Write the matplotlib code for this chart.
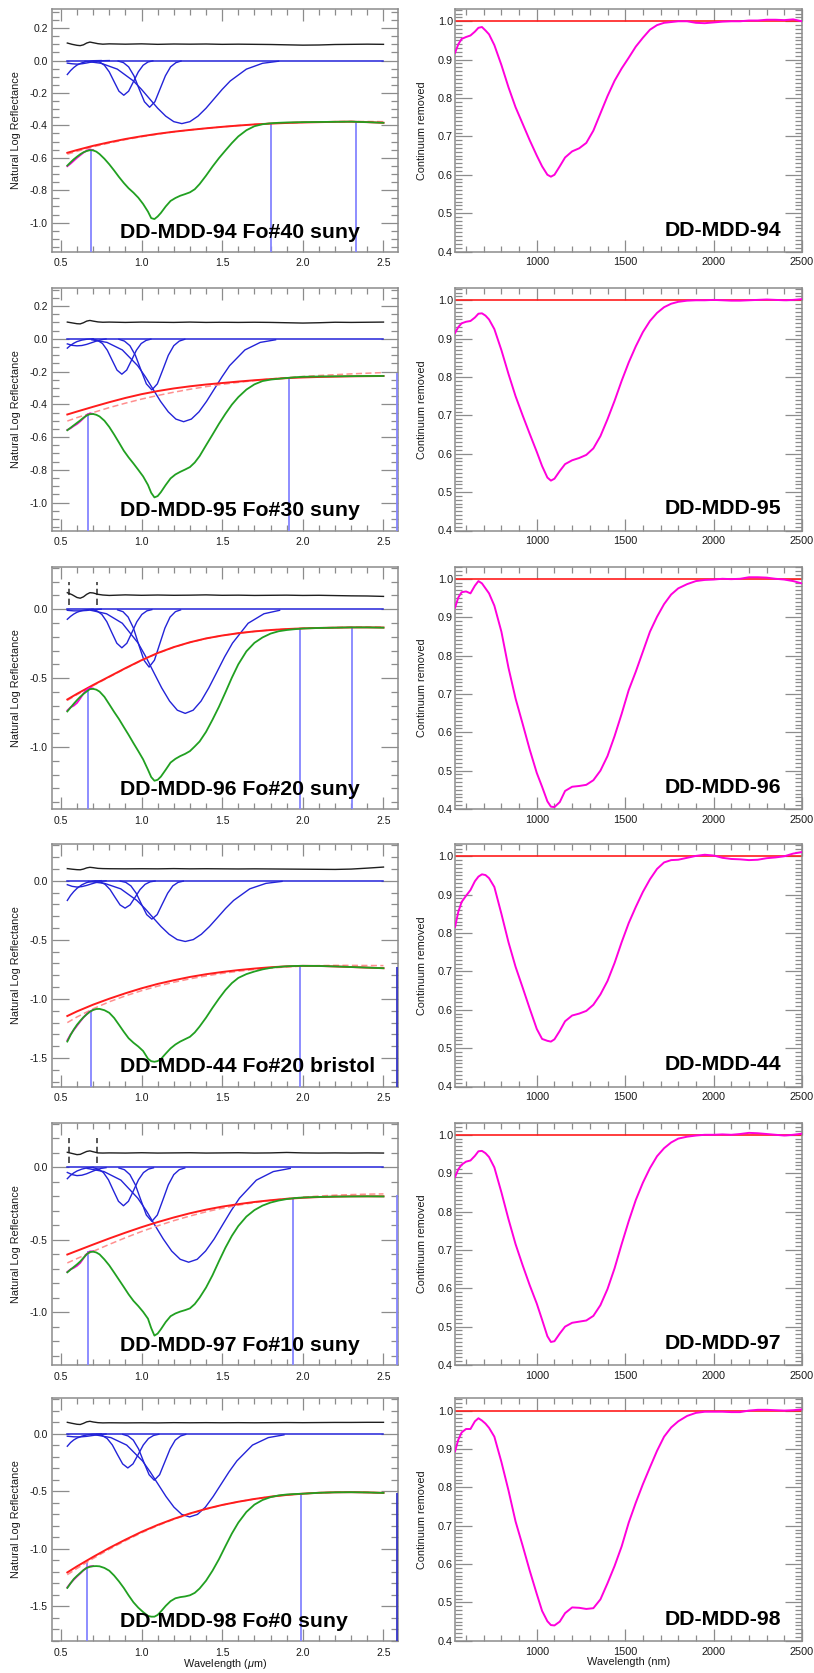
import matplotlib
matplotlib.use('Agg')
import matplotlib.pyplot as plt
from matplotlib.ticker import MultipleLocator, FormatStrFormatter

plt.rcParams['font.family'] = ['Liberation Sans', 'DejaVu Sans']
plt.rcParams['axes.unicode_minus'] = False
plt.rcParams['mathtext.fontset'] = 'custom'
plt.rcParams['mathtext.it'] = 'Liberation Sans:italic'
plt.rcParams['mathtext.rm'] = 'Liberation Sans'

# ------------------------------------------------------------------ data
left_titles = ['DD-MDD-94 Fo#40 suny', 'DD-MDD-95 Fo#30 suny', 'DD-MDD-96 Fo#20 suny',
               'DD-MDD-44 Fo#20 bristol', 'DD-MDD-97 Fo#10 suny', 'DD-MDD-98 Fo#0 suny']
right_titles = ['DD-MDD-94', 'DD-MDD-95', 'DD-MDD-96', 'DD-MDD-44', 'DD-MDD-97', 'DD-MDD-98']

# wavelength grids (micrometres) for the left panels
GX = [0.54, 0.56, 0.58, 0.60, 0.62, 0.64, 0.66, 0.68, 0.70, 0.72, 0.74, 0.77, 0.80, 0.83, 0.86,
      0.89, 0.92, 0.95, 0.98, 1.01, 1.04, 1.06, 1.08, 1.10, 1.12, 1.15, 1.18, 1.21, 1.24, 1.27,
      1.30, 1.33, 1.36, 1.40, 1.44, 1.48, 1.52, 1.56, 1.60, 1.65, 1.70, 1.75, 1.80, 1.85, 1.90,
      1.95, 2.00, 2.10, 2.20, 2.30, 2.40, 2.50]
CX = [0.54, 0.6, 0.7, 0.8, 0.9, 1.0, 1.1, 1.2, 1.3, 1.4, 1.5, 1.6, 1.7, 1.8, 1.9, 2.0, 2.1, 2.2,
      2.3, 2.4, 2.5]
BKX = [0.54, 0.57, 0.60, 0.62, 0.64, 0.66, 0.68, 0.70, 0.73, 0.76, 0.80, 0.9, 1.0, 1.1, 1.2, 1.3,
       1.4, 1.5, 1.6, 1.7, 1.8, 1.9, 2.0, 2.1, 2.2, 2.3, 2.4, 2.5]
MX = [0.54, 0.56, 0.58, 0.60, 0.62, 0.64, 0.66, 0.68, 0.70]
# wavelength grid (nm) for the right panels
RX = [538, 556, 575, 600, 625, 650, 670, 690, 710, 730, 760, 800, 840, 880, 920, 960, 1000,
      1030, 1060, 1080, 1100, 1130, 1160, 1200, 1240, 1280, 1320, 1360, 1400, 1440, 1480, 1520,
      1560, 1600, 1640, 1680, 1720, 1760, 1800, 1850, 1900, 1950, 2000, 2050, 2100, 2150, 2200,
      2250, 2300, 2350, 2400, 2450, 2500]

# ---- modelled spectra (green) ----
green_94 = [-0.648, -0.628, -0.609, -0.593, -0.578, -0.566, -0.558, -0.553, -0.554, -0.562, -0.577,
            -0.606, -0.640, -0.678, -0.718, -0.755, -0.788, -0.815, -0.846, -0.885, -0.932,
            -0.972, -0.978, -0.962, -0.940, -0.900, -0.866, -0.848, -0.834, -0.824, -0.813,
            -0.794, -0.762, -0.710, -0.654, -0.602, -0.555, -0.509, -0.468, -0.430, -0.405,
            -0.393, -0.387, -0.384, -0.382, -0.381, -0.380, -0.379, -0.378, -0.377, -0.380, -0.384]
green_95 = [-0.558, -0.543, -0.528, -0.513, -0.498, -0.482, -0.468, -0.460, -0.459, -0.464, -0.474,
            -0.500, -0.538, -0.584, -0.633, -0.683, -0.724, -0.761, -0.800, -0.840, -0.892,
            -0.940, -0.968, -0.960, -0.936, -0.892, -0.852, -0.828, -0.812, -0.798, -0.783,
            -0.755, -0.716, -0.650, -0.585, -0.519, -0.458, -0.402, -0.356, -0.310, -0.278,
            -0.258, -0.249, -0.244, -0.239, -0.235, -0.232, -0.230, -0.229, -0.228, -0.227, -0.227]
green_96 = [-0.742, -0.714, -0.686, -0.660, -0.636, -0.615, -0.597, -0.580, -0.578, -0.584, -0.598,
            -0.636, -0.690, -0.745, -0.797, -0.855, -0.912, -0.972, -1.030, -1.090, -1.165,
            -1.218, -1.245, -1.238, -1.215, -1.165, -1.113, -1.086, -1.066, -1.050, -1.030,
            -0.996, -0.960, -0.890, -0.802, -0.708, -0.604, -0.497, -0.400, -0.306, -0.244,
            -0.205, -0.177, -0.160, -0.151, -0.145, -0.140, -0.136, -0.134, -0.132, -0.132, -0.134]
green_44 = [-1.360, -1.305, -1.258, -1.218, -1.185, -1.155, -1.130, -1.108, -1.093, -1.085, -1.084,
            -1.095, -1.117, -1.160, -1.218, -1.277, -1.332, -1.370, -1.402, -1.440, -1.505,
            -1.526, -1.531, -1.525, -1.508, -1.462, -1.418, -1.385, -1.360, -1.340, -1.320,
            -1.283, -1.233, -1.158, -1.075, -0.997, -0.925, -0.866, -0.822, -0.790, -0.768,
            -0.750, -0.737, -0.729, -0.724, -0.721, -0.720, -0.721, -0.725, -0.730, -0.735, -0.740]
green_97 = [-0.725, -0.706, -0.688, -0.670, -0.650, -0.625, -0.600, -0.585, -0.582, -0.588, -0.601,
            -0.636, -0.677, -0.726, -0.776, -0.826, -0.877, -0.922, -0.958, -0.998, -1.045,
            -1.110, -1.162, -1.148, -1.118, -1.068, -1.028, -1.009, -0.996, -0.986, -0.974,
            -0.944, -0.900, -0.830, -0.745, -0.648, -0.555, -0.473, -0.405, -0.340, -0.295,
            -0.264, -0.243, -0.229, -0.219, -0.212, -0.208, -0.204, -0.202, -0.201, -0.200, -0.201]
green_98 = [-1.340, -1.300, -1.262, -1.235, -1.210, -1.185, -1.166, -1.156, -1.151, -1.150, -1.152,
            -1.166, -1.190, -1.232, -1.283, -1.340, -1.405, -1.465, -1.512, -1.550, -1.583,
            -1.590, -1.590, -1.575, -1.545, -1.496, -1.455, -1.430, -1.420, -1.414, -1.404,
            -1.383, -1.345, -1.277, -1.190, -1.090, -0.977, -0.867, -0.772, -0.679, -0.615,
            -0.575, -0.550, -0.535, -0.527, -0.523, -0.520, -0.512, -0.508, -0.507, -0.509, -0.513]

# ---- measured spectra near the short-wavelength end (magenta, peeks out under the fit) ----
meas_94 = [-0.652, -0.636, -0.618, -0.600, -0.584, -0.568, -0.556, -0.549, -0.553]
meas_95 = [-0.556, -0.546, -0.532, -0.520, -0.504, -0.485, -0.466, -0.455, -0.458]
meas_96 = [-0.735, -0.712, -0.700, -0.680, -0.648, -0.612, -0.585, -0.570, -0.576]
meas_44 = [-1.350, -1.300, -1.262, -1.226, -1.190, -1.156, -1.128, -1.106, -1.092]
meas_97 = [-0.722, -0.704, -0.694, -0.680, -0.660, -0.628, -0.598, -0.580, -0.580]
meas_98 = [-1.335, -1.298, -1.268, -1.240, -1.214, -1.186, -1.164, -1.152, -1.150]

# ---- continua (solid and dashed red) ----
cont_94 = [-0.569, -0.552, -0.526, -0.504, -0.484, -0.467, -0.452, -0.439, -0.428, -0.418, -0.409,
           -0.401, -0.394, -0.389, -0.385, -0.382, -0.380, -0.378, -0.377, -0.380, -0.384]
contd_94 = [-0.578, -0.560, -0.532, -0.509, -0.488, -0.470, -0.454, -0.440, -0.428, -0.418, -0.409,
            -0.401, -0.394, -0.388, -0.384, -0.381, -0.379, -0.377, -0.376, -0.376, -0.377]
cont_95 = [-0.462, -0.444, -0.415, -0.387, -0.361, -0.338, -0.319, -0.303, -0.290, -0.279, -0.270,
           -0.261, -0.253, -0.246, -0.240, -0.236, -0.233, -0.231, -0.229, -0.228, -0.227]
contd_95 = [-0.502, -0.481, -0.450, -0.420, -0.393, -0.368, -0.346, -0.326, -0.308, -0.292, -0.278,
            -0.266, -0.255, -0.245, -0.237, -0.230, -0.224, -0.219, -0.214, -0.210, -0.206]
cont_96 = [-0.655, -0.614, -0.550, -0.489, -0.428, -0.370, -0.318, -0.275, -0.240, -0.212, -0.191,
           -0.174, -0.161, -0.151, -0.144, -0.139, -0.136, -0.134, -0.132, -0.132, -0.133]
contd_96 = [-0.662, -0.620, -0.555, -0.492, -0.431, -0.372, -0.320, -0.276, -0.241, -0.213, -0.191,
            -0.174, -0.161, -0.151, -0.144, -0.139, -0.135, -0.133, -0.131, -0.130, -0.130]
cont_44 = [-1.144, -1.105, -1.048, -0.998, -0.952, -0.910, -0.873, -0.842, -0.814, -0.791, -0.772,
           -0.756, -0.743, -0.732, -0.724, -0.720, -0.721, -0.725, -0.730, -0.735, -0.740]
contd_44 = [-1.200, -1.152, -1.083, -1.024, -0.974, -0.930, -0.892, -0.859, -0.830, -0.805, -0.784,
            -0.766, -0.751, -0.739, -0.729, -0.722, -0.718, -0.716, -0.716, -0.717, -0.718]
cont_97 = [-0.602, -0.576, -0.533, -0.491, -0.451, -0.413, -0.378, -0.346, -0.317, -0.292, -0.271,
           -0.254, -0.239, -0.227, -0.217, -0.210, -0.205, -0.202, -0.200, -0.200, -0.200]
contd_97 = [-0.660, -0.630, -0.580, -0.532, -0.486, -0.443, -0.404, -0.368, -0.336, -0.307, -0.282,
            -0.261, -0.243, -0.228, -0.216, -0.206, -0.198, -0.192, -0.188, -0.185, -0.183]
cont_98 = [-1.205, -1.152, -1.070, -0.992, -0.920, -0.852, -0.792, -0.739, -0.692, -0.652, -0.618,
           -0.590, -0.566, -0.546, -0.531, -0.520, -0.512, -0.508, -0.507, -0.509, -0.513]
contd_98 = [-1.225, -1.170, -1.084, -1.003, -0.929, -0.860, -0.798, -0.743, -0.695, -0.654, -0.619,
            -0.590, -0.566, -0.546, -0.531, -0.520, -0.512, -0.508, -0.507, -0.509, -0.513]

# ---- residual (black, offset +0.1) ----
resid_94 = [0.108, 0.100, 0.094, 0.092, 0.097, 0.108, 0.114, 0.110, 0.104, 0.101, 0.103, 0.101, 0.103,
            0.100, 0.102, 0.101, 0.102, 0.100, 0.101, 0.100, 0.099, 0.097, 0.095, 0.096, 0.099, 0.100,
            0.101, 0.100]
resid_95 = [0.102, 0.097, 0.092, 0.091, 0.098, 0.108, 0.112, 0.108, 0.103, 0.101, 0.102, 0.100, 0.102,
            0.101, 0.100, 0.102, 0.100, 0.101, 0.100, 0.101, 0.100, 0.098, 0.096, 0.098, 0.101, 0.100,
            0.101, 0.102]
resid_96 = [0.120, 0.105, 0.085, 0.080, 0.090, 0.108, 0.120, 0.118, 0.108, 0.103, 0.100, 0.104, 0.101,
            0.103, 0.101, 0.102, 0.104, 0.101, 0.102, 0.100, 0.101, 0.102, 0.100, 0.101, 0.099, 0.097,
            0.096, 0.093]
resid_44 = [0.102, 0.097, 0.093, 0.092, 0.098, 0.108, 0.113, 0.110, 0.104, 0.102, 0.101, 0.100, 0.101,
            0.100, 0.102, 0.100, 0.101, 0.100, 0.099, 0.100, 0.099, 0.098, 0.097, 0.096, 0.095, 0.098,
            0.106, 0.115]
resid_97 = [0.104, 0.096, 0.088, 0.090, 0.100, 0.110, 0.114, 0.108, 0.100, 0.099, 0.100, 0.099, 0.101,
            0.099, 0.100, 0.101, 0.099, 0.100, 0.101, 0.099, 0.100, 0.103, 0.100, 0.099, 0.100, 0.099,
            0.100, 0.099]
resid_98 = [0.101, 0.092, 0.084, 0.082, 0.092, 0.105, 0.110, 0.104, 0.098, 0.096, 0.097, 0.096, 0.097,
            0.096, 0.098, 0.097, 0.098, 0.097, 0.098, 0.097, 0.098, 0.099, 0.098, 0.099, 0.100, 0.100,
            0.101, 0.101]

# ---- absorption bands (blue) : A, B = small visible bands; 1, 2, 3 = olivine M1/M2/M1 ----
b94_ax = [0.54, 0.56, 0.58, 0.60, 0.63, 0.66, 0.70, 0.75]
b94_ay = [-0.086, -0.062, -0.043, -0.028, -0.014, -0.006, -0.001, 0.0]
b94_bx = [0.54, 0.57, 0.60, 0.63, 0.66, 0.69, 0.72, 0.76, 0.80]
b94_by = [-0.016, -0.020, -0.022, -0.020, -0.015, -0.009, -0.005, -0.001, 0.0]
b94_1x = [0.71, 0.74, 0.77, 0.80, 0.83, 0.86, 0.89, 0.92, 0.95, 0.98, 1.01, 1.04, 1.07]
b94_1y = [-0.002, -0.009, -0.029, -0.070, -0.130, -0.189, -0.214, -0.189, -0.130, -0.070, -0.029, -0.009, -0.002]
b94_2x = [0.855, 0.888, 0.920, 0.953, 0.985, 1.018, 1.050, 1.083, 1.115, 1.148, 1.180, 1.213, 1.245]
b94_2y = [-0.003, -0.013, -0.039, -0.094, -0.175, -0.254, -0.288, -0.254, -0.175, -0.094, -0.039, -0.013, -0.003]
b94_3x = [0.65, 0.75, 0.85, 0.95, 1.00, 1.05, 1.10, 1.15, 1.20, 1.25, 1.30, 1.35, 1.40, 1.45, 1.50,
          1.55, 1.65, 1.75, 1.85]
b94_3y = [-0.004, -0.017, -0.053, -0.126, -0.178, -0.236, -0.294, -0.343, -0.377, -0.389, -0.377,
          -0.343, -0.294, -0.236, -0.178, -0.126, -0.053, -0.017, -0.004]

b95_ax = [0.54, 0.56, 0.58, 0.60, 0.63, 0.66, 0.70]
b95_ay = [-0.057, -0.040, -0.027, -0.017, -0.008, -0.003, 0.0]
b95_bx = [0.54, 0.57, 0.60, 0.63, 0.66, 0.69, 0.72, 0.75, 0.78]
b95_by = [-0.031, -0.040, -0.043, -0.041, -0.034, -0.024, -0.014, -0.006, -0.001]
b95_1x = [0.698, 0.728, 0.758, 0.788, 0.818, 0.848, 0.878, 0.908, 0.938, 0.968, 0.998, 1.028, 1.058]
b95_1y = [-0.002, -0.010, -0.029, -0.070, -0.131, -0.191, -0.216, -0.191, -0.131, -0.070, -0.029, -0.010, -0.002]
b95_2x = [0.860, 0.894, 0.928, 0.962, 0.996, 1.030, 1.064, 1.098, 1.132, 1.166, 1.200, 1.234, 1.268]
b95_2y = [-0.003, -0.014, -0.042, -0.101, -0.189, -0.275, -0.312, -0.275, -0.189, -0.101, -0.042, -0.014, -0.003]
b95_3x = [0.691, 0.786, 0.881, 0.976, 1.024, 1.071, 1.118, 1.166, 1.213, 1.261, 1.309, 1.356, 1.403,
          1.451, 1.499, 1.546, 1.641, 1.736, 1.831]
b95_3y = [-0.006, -0.022, -0.068, -0.164, -0.232, -0.307, -0.382, -0.446, -0.490, -0.506, -0.490,
          -0.446, -0.382, -0.307, -0.232, -0.164, -0.068, -0.022, -0.006]

b96_ax = [0.54, 0.56, 0.58, 0.60, 0.63, 0.66, 0.70]
b96_ay = [-0.073, -0.052, -0.035, -0.022, -0.010, -0.004, 0.0]
b96_bx = [0.54, 0.58, 0.62, 0.66, 0.70, 0.75]
b96_by = [-0.008, -0.012, -0.012, -0.009, -0.004, 0.0]
b96_1x = [0.692, 0.723, 0.754, 0.785, 0.816, 0.847, 0.878, 0.909, 0.940, 0.971, 1.002, 1.033, 1.064]
b96_1y = [-0.003, -0.012, -0.038, -0.091, -0.170, -0.247, -0.280, -0.247, -0.170, -0.091, -0.038, -0.012, -0.003]
b96_2x = [0.852, 0.885, 0.917, 0.950, 0.982, 1.015, 1.047, 1.080, 1.112, 1.145, 1.177, 1.210, 1.242]
b96_2y = [-0.005, -0.018, -0.057, -0.137, -0.255, -0.370, -0.420, -0.370, -0.255, -0.137, -0.057, -0.018, -0.005]
b96_3x = [0.686, 0.783, 0.881, 0.979, 1.027, 1.076, 1.125, 1.174, 1.222, 1.271, 1.320, 1.369, 1.417,
          1.466, 1.515, 1.564, 1.661, 1.759, 1.856]
b96_3y = [-0.008, -0.033, -0.102, -0.246, -0.346, -0.459, -0.571, -0.667, -0.733, -0.756, -0.733,
          -0.667, -0.571, -0.459, -0.346, -0.246, -0.102, -0.033, -0.008]

b44_ax = [0.54, 0.56, 0.58, 0.60, 0.63, 0.66, 0.70, 0.75]
b44_ay = [-0.167, -0.125, -0.092, -0.065, -0.035, -0.016, -0.004, 0.0]
b44_bx = [0.54, 0.57, 0.60, 0.63, 0.66, 0.69, 0.72, 0.75, 0.78]
b44_by = [-0.034, -0.048, -0.054, -0.050, -0.040, -0.027, -0.015, -0.006, -0.001]
b44_1x = [0.712, 0.743, 0.774, 0.805, 0.836, 0.867, 0.898, 0.929, 0.960, 0.991, 1.022, 1.053, 1.084]
b44_1y = [-0.003, -0.010, -0.031, -0.075, -0.141, -0.205, -0.232, -0.205, -0.141, -0.075, -0.031, -0.010, -0.003]
b44_2x = [0.869, 0.902, 0.934, 0.967, 0.999, 1.032, 1.064, 1.097, 1.129, 1.162, 1.194, 1.227, 1.259]
b44_2y = [-0.004, -0.014, -0.044, -0.106, -0.197, -0.287, -0.325, -0.287, -0.197, -0.106, -0.044, -0.014, -0.004]
b44_3x = [0.671, 0.771, 0.871, 0.971, 1.021, 1.071, 1.121, 1.171, 1.221, 1.271, 1.321, 1.371, 1.421,
          1.471, 1.521, 1.571, 1.671, 1.771, 1.871]
b44_3y = [-0.006, -0.023, -0.069, -0.167, -0.235, -0.312, -0.388, -0.453, -0.498, -0.514, -0.498,
          -0.453, -0.388, -0.312, -0.235, -0.167, -0.069, -0.023, -0.006]

b97_ax = [0.54, 0.56, 0.58, 0.60, 0.63, 0.66, 0.70]
b97_ay = [-0.078, -0.055, -0.038, -0.025, -0.012, -0.004, 0.0]
b97_bx = [0.54, 0.57, 0.60, 0.63, 0.66, 0.69, 0.72, 0.75, 0.78]
b97_by = [-0.035, -0.050, -0.057, -0.054, -0.044, -0.030, -0.017, -0.007, -0.002]
b97_1x = [0.702, 0.733, 0.764, 0.795, 0.826, 0.857, 0.888, 0.919, 0.950, 0.981, 1.012, 1.043, 1.074]
b97_1y = [-0.003, -0.012, -0.036, -0.086, -0.161, -0.234, -0.265, -0.234, -0.161, -0.086, -0.036, -0.012, -0.003]
b97_2x = [0.860, 0.894, 0.928, 0.962, 0.996, 1.030, 1.064, 1.098, 1.132, 1.166, 1.200, 1.234, 1.268]
b97_2y = [-0.004, -0.016, -0.050, -0.121, -0.226, -0.329, -0.373, -0.329, -0.226, -0.121, -0.050, -0.016, -0.004]
b97_3x = [0.662, 0.767, 0.872, 0.977, 1.030, 1.082, 1.135, 1.187, 1.240, 1.292, 1.345, 1.397, 1.450,
          1.502, 1.555, 1.607, 1.712, 1.817, 1.922]
b97_3y = [-0.007, -0.029, -0.088, -0.213, -0.300, -0.398, -0.495, -0.578, -0.635, -0.655, -0.635,
          -0.578, -0.495, -0.398, -0.300, -0.213, -0.088, -0.029, -0.007]

b98_ax = [0.54, 0.56, 0.58, 0.60, 0.63, 0.66, 0.70, 0.75]
b98_ay = [-0.107, -0.075, -0.052, -0.036, -0.019, -0.009, -0.002, 0.0]
b98_bx = [0.54, 0.58, 0.62, 0.66, 0.70, 0.74, 0.78]
b98_by = [-0.020, -0.025, -0.026, -0.021, -0.013, -0.005, -0.001]
b98_1x = [0.723, 0.755, 0.787, 0.819, 0.851, 0.883, 0.915, 0.947, 0.979, 1.011, 1.043, 1.075, 1.107]
b98_1y = [-0.003, -0.013, -0.040, -0.096, -0.180, -0.261, -0.296, -0.261, -0.180, -0.096, -0.040, -0.013, -0.003]
b98_2x = [0.884, 0.917, 0.949, 0.982, 1.014, 1.047, 1.079, 1.112, 1.144, 1.177, 1.209, 1.242, 1.274]
b98_2y = [-0.004, -0.018, -0.054, -0.131, -0.245, -0.355, -0.403, -0.355, -0.245, -0.131, -0.054, -0.018, -0.004]
b98_3x = [0.713, 0.810, 0.908, 1.006, 1.054, 1.103, 1.152, 1.201, 1.249, 1.298, 1.347, 1.396, 1.444,
          1.493, 1.542, 1.591, 1.688, 1.786, 1.883]
b98_3y = [-0.008, -0.032, -0.097, -0.235, -0.331, -0.438, -0.545, -0.637, -0.700, -0.722, -0.700,
          -0.637, -0.545, -0.438, -0.331, -0.235, -0.097, -0.032, -0.008]

# ---- continuum tie points (vertical blue lines): wavelength and top value ----
tie_x_94 = [0.685, 1.80, 2.33];  tie_top_94 = [-0.550, -0.388, -0.377]
tie_x_95 = [0.671, 1.913, 2.585]; tie_top_95 = [-0.455, -0.238, -0.210]
tie_x_96 = [0.671, 1.981, 2.302]; tie_top_96 = [-0.570, -0.140, -0.133]
tie_x_44 = [0.685, 1.985, 2.585]; tie_top_44 = [-1.090, -0.720, -0.730]
tie_x_97 = [0.671, 1.940, 2.585]; tie_top_97 = [-0.580, -0.211, -0.190]
tie_x_98 = [0.660, 1.990, 2.585]; tie_top_98 = [-1.116, -0.520, -0.513]
# grey dashed markers (only samples 96 and 97)
mark_x = [0.553, 0.727]
mark_lo = 0.03
mark_hi = 0.20

# ---- continuum-removed spectra (right panels) ----
cr_94 = [0.918, 0.940, 0.954, 0.959, 0.963, 0.973, 0.983, 0.985, 0.976, 0.966, 0.938, 0.886, 0.828,
         0.776, 0.733, 0.690, 0.650, 0.622, 0.600, 0.595, 0.600, 0.622, 0.645, 0.661, 0.669, 0.683,
         0.715, 0.760, 0.805, 0.845, 0.877, 0.905, 0.934, 0.957, 0.978, 0.990, 0.996, 0.998, 1.000,
         1.000, 0.996, 0.995, 0.997, 0.999, 1.000, 1.000, 1.002, 1.002, 1.004, 1.004, 1.003, 1.005, 1.000]
cr_95 = [0.915, 0.930, 0.940, 0.944, 0.946, 0.955, 0.965, 0.966, 0.960, 0.950, 0.925, 0.870, 0.808,
         0.750, 0.700, 0.652, 0.605, 0.568, 0.538, 0.530, 0.535, 0.555, 0.573, 0.583, 0.589, 0.597,
         0.614, 0.646, 0.690, 0.738, 0.790, 0.838, 0.880, 0.917, 0.946, 0.967, 0.982, 0.991, 0.996,
         0.999, 1.000, 1.000, 1.001, 1.000, 0.999, 0.999, 1.000, 1.001, 1.002, 1.001, 1.000, 1.001, 1.003]
cr_96 = [0.925, 0.951, 0.965, 0.967, 0.962, 0.982, 0.994, 0.988, 0.975, 0.962, 0.930, 0.862, 0.768,
         0.688, 0.622, 0.555, 0.494, 0.458, 0.420, 0.406, 0.405, 0.418, 0.447, 0.458, 0.460, 0.463,
         0.475, 0.500, 0.538, 0.590, 0.648, 0.710, 0.758, 0.810, 0.862, 0.901, 0.934, 0.959, 0.975,
         0.986, 0.994, 0.997, 0.998, 1.000, 0.999, 1.000, 1.004, 1.004, 1.003, 1.000, 0.998, 0.994, 0.988]
cr_44 = [0.816, 0.855, 0.881, 0.897, 0.912, 0.935, 0.947, 0.953, 0.951, 0.943, 0.920, 0.850, 0.776,
         0.712, 0.658, 0.603, 0.550, 0.524, 0.519, 0.517, 0.523, 0.545, 0.570, 0.585, 0.590, 0.597,
         0.613, 0.640, 0.675, 0.722, 0.776, 0.826, 0.868, 0.907, 0.940, 0.967, 0.984, 0.990, 0.991,
         0.996, 1.001, 1.004, 1.002, 0.996, 0.993, 0.992, 0.990, 0.991, 0.995, 0.997, 1.000, 1.007, 1.011]
cr_97 = [0.890, 0.910, 0.922, 0.930, 0.933, 0.945, 0.957, 0.958, 0.952, 0.942, 0.915, 0.850, 0.780,
         0.715, 0.660, 0.608, 0.560, 0.518, 0.475, 0.460, 0.462, 0.482, 0.500, 0.510, 0.513, 0.516,
         0.528, 0.556, 0.598, 0.652, 0.715, 0.775, 0.830, 0.875, 0.913, 0.944, 0.965, 0.980, 0.990,
         0.995, 0.998, 1.000, 1.000, 1.001, 1.000, 1.002, 1.005, 1.004, 1.002, 1.000, 0.998, 1.000, 1.003]
cr_98 = [0.894, 0.924, 0.943, 0.952, 0.952, 0.972, 0.980, 0.974, 0.966, 0.955, 0.932, 0.866, 0.792,
         0.711, 0.648, 0.583, 0.522, 0.478, 0.451, 0.441, 0.440, 0.450, 0.472, 0.487, 0.486, 0.483,
         0.485, 0.508, 0.550, 0.595, 0.646, 0.708, 0.760, 0.808, 0.852, 0.895, 0.932, 0.956, 0.972,
         0.986, 0.994, 0.997, 0.997, 0.997, 0.996, 0.996, 1.000, 1.002, 1.002, 1.001, 1.000, 1.001, 1.003]

# ------------------------------------------------------------------ layout
W, H = 814, 1673
row_tops = [9, 288, 566.5, 844, 1122.5, 1398.3]
row_h = 242.5
left_x0, left_w = 52, 346
right_x0, right_w = 455, 347
left_ylims = [(-1.178, 0.318), (-1.17, 0.31), (-1.45, 0.31), (-1.74, 0.31), (-1.365, 0.31), (-1.80, 0.31)]

greens = [green_94, green_95, green_96, green_44, green_97, green_98]
meass = [meas_94, meas_95, meas_96, meas_44, meas_97, meas_98]
conts = [cont_94, cont_95, cont_96, cont_44, cont_97, cont_98]
contds = [contd_94, contd_95, contd_96, contd_44, contd_97, contd_98]
resids = [resid_94, resid_95, resid_96, resid_44, resid_97, resid_98]
bands = [
    [(b94_ax, b94_ay), (b94_bx, b94_by), (b94_1x, b94_1y), (b94_2x, b94_2y), (b94_3x, b94_3y)],
    [(b95_ax, b95_ay), (b95_bx, b95_by), (b95_1x, b95_1y), (b95_2x, b95_2y), (b95_3x, b95_3y)],
    [(b96_ax, b96_ay), (b96_bx, b96_by), (b96_1x, b96_1y), (b96_2x, b96_2y), (b96_3x, b96_3y)],
    [(b44_ax, b44_ay), (b44_bx, b44_by), (b44_1x, b44_1y), (b44_2x, b44_2y), (b44_3x, b44_3y)],
    [(b97_ax, b97_ay), (b97_bx, b97_by), (b97_1x, b97_1y), (b97_2x, b97_2y), (b97_3x, b97_3y)],
    [(b98_ax, b98_ay), (b98_bx, b98_by), (b98_1x, b98_1y), (b98_2x, b98_2y), (b98_3x, b98_3y)],
]
ties = [(tie_x_94, tie_top_94), (tie_x_95, tie_top_95), (tie_x_96, tie_top_96),
        (tie_x_44, tie_top_44), (tie_x_97, tie_top_97), (tie_x_98, tie_top_98)]
crs = [cr_94, cr_95, cr_96, cr_44, cr_97, cr_98]
has_marks = [False, False, True, False, True, False]

FRAME = '#8c8c8c'
BLUE = '#2323d8'
TIE = '#8585ff'
RED = '#ff1c1c'
RED_D = '#ff8f8f'
GREEN = '#21a021'
MAGENTA = '#ff00dc'


def style(ax, xmaj, xmin, ymaj, ymin, xfmt, yfmt, lab_size, xpad, ypad):
    for s in ax.spines.values():
        s.set_color(FRAME)
        s.set_linewidth(1.1)
    ax.xaxis.set_major_locator(MultipleLocator(xmaj))
    ax.xaxis.set_minor_locator(MultipleLocator(xmin))
    ax.yaxis.set_major_locator(MultipleLocator(ymaj))
    ax.yaxis.set_minor_locator(MultipleLocator(ymin))
    ax.xaxis.set_major_formatter(FormatStrFormatter(xfmt))
    ax.yaxis.set_major_formatter(FormatStrFormatter(yfmt))
    ax.tick_params(which='both', direction='in', top=True, right=True, color=FRAME,
                   width=0.9, labelcolor='#1a1a1a', labelsize=lab_size)
    ax.tick_params(axis='y', which='major', length=12, pad=ypad)
    ax.tick_params(axis='y', which='minor', length=5)
    ax.tick_params(axis='x', which='major', length=8.4, pad=xpad)
    ax.tick_params(axis='x', which='minor', length=4.3)


fig = plt.figure(figsize=(W / 100, H / 100), dpi=100)

for i in range(6):
    top = row_tops[i]
    yb = 1 - (top + row_h) / H
    hh = row_h / H
    # ---------------- left panel
    ax = fig.add_axes([left_x0 / W, yb, left_w / W, hh])
    ylo, yhi = left_ylims[i]
    ax.set_xlim(0.445, 2.59)
    ax.set_ylim(ylo, yhi)
    if i < 2:
        style(ax, 0.5, 0.1, 0.2, 0.05, '%.1f', '%.1f', 7.5, 5, 3)
    else:
        style(ax, 0.5, 0.1, 0.5, 0.1, '%.1f', '%.1f', 7.5, 5, 3)

    tx, ttop = ties[i]
    for k, (xv, tv) in enumerate(zip(tx, ttop)):
        col = TIE
        if k == 2 and i in (3, 5):
            col = '#3535c8'
        ax.vlines(xv, ylo, tv, color=col, lw=1.3, zorder=2.7)
    if has_marks[i]:
        ax.vlines(mark_x, mark_lo, mark_hi, colors='#4a4a4a', linestyles=(0, (3.5, 2)), lw=1.3, zorder=3)

    ax.plot([GX[0], GX[-1]], [0, 0], color=BLUE, lw=1.1, zorder=2)
    for bx, by in bands[i]:
        ax.plot(bx, by, color=BLUE, lw=1.0, zorder=2)
    ax.plot(BKX, resids[i], color='#1e1e1e', lw=1.0, zorder=3)
    ax.plot(CX, contds[i], color=RED_D, lw=1.1, dashes=(4, 2.2), zorder=3)
    ax.plot(CX, conts[i], color=RED, lw=1.4, zorder=4)
    ax.plot(MX, meass[i], color=MAGENTA, lw=1.3, zorder=4.5)
    ax.plot(GX, greens[i], color=GREEN, lw=1.3, zorder=5)

    ax.set_ylabel('Natural Log Reflectance', fontsize=7.8, color='#1a1a1a')
    ax.yaxis.set_label_coords(-0.09, 0.5)
    ax.annotate(left_titles[i], xy=(0, 0), xycoords='axes fraction', xytext=(68, 14),
                textcoords='offset pixels', ha='left', va='baseline', fontsize=15.3,
                fontweight='bold', color='black', zorder=6)
    if i == 5:
        ax.set_xlabel('Wavelength ($\\mathit{\\mu}$m)', fontsize=7.8, color='#1a1a1a')
        ax.xaxis.set_label_coords(0.5, -0.066)

    # ---------------- right panel
    ax2 = fig.add_axes([right_x0 / W, yb, right_w / W, hh])
    ax2.set_xlim(537.5, 2500)
    ax2.set_ylim(0.4, 1.032)
    style(ax2, 500, 100, 0.1, 0.01, '%d', '%.1f', 7.8, 4.3, 1.5)
    ax2.axhline(1.0, color=RED, lw=1.2, zorder=2)
    ax2.plot(RX, crs[i], color=MAGENTA, lw=1.4, zorder=3)
    ax2.set_ylabel('Continuum removed', fontsize=7.8, color='#1a1a1a')
    ax2.yaxis.set_label_coords(-0.082, 0.5)
    ax2.annotate(right_titles[i], xy=(1, 0), xycoords='axes fraction', xytext=(-21, 16),
                 textcoords='offset pixels', ha='right', va='baseline', fontsize=15.3,
                 fontweight='bold', color='black', zorder=6)
    if i == 5:
        ax2.set_xlabel('Wavelength (nm)', fontsize=7.8, color='#1a1a1a')
        ax2.xaxis.set_label_coords(0.5, -0.066)

fig.savefig('out.png', dpi=100)
